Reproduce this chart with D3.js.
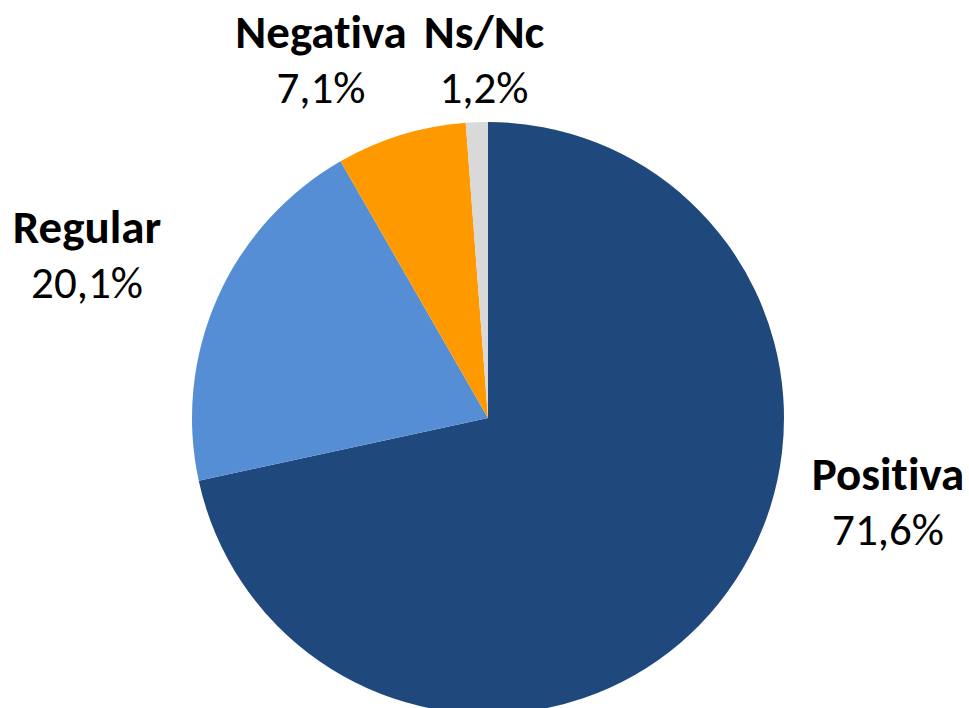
<!DOCTYPE html>
<html>
<head>
<meta charset="utf-8">
<title>Valoración</title>
<script src="https://d3js.org/d3.v7.min.js"></script>
<style>
  body { margin: 0; background: #fff; }
  svg text { font-family: Carlito, Lato, "Open Sans", sans-serif; fill: #000; font-variant-ligatures: none; font-feature-settings: "liga" 0; }
</style>
</head>
<body>
<svg id="chart" width="969" height="708"></svg>
<script>
// data
var categories = ["Positiva", "Regular", "Negativa", "Ns/Nc"];
var values = [71.6, 20.1, 7.1, 1.2];
var colors = ["#1F497D", "#558ED5", "#FF9900", "#D9D9D9"];
// label anchors (layout, text centre x / name baseline y)
var labelPos = [[888, 490], [87, 243], [321, 48], [484, 48]];

var svg = d3.select("#chart");
var cx = 488, cy = 418, radius = 296;

var pie = d3.pie().sort(null).value(function(d) { return d; });
var arc = d3.arc().innerRadius(0).outerRadius(radius);

var color = d3.scaleOrdinal().domain(categories).range(colors);

var g = svg.append("g").attr("transform", "translate(" + cx + "," + cy + ")");

g.selectAll("path")
  .data(pie(values))
  .enter()
  .append("path")
  .attr("d", arc)
  .attr("fill", function(d, i) { return color(categories[i]); });

var fmt = function(v) { return v.toFixed(1).replace(".", ",") + "%"; };

var labels = svg.append("g").selectAll("g")
  .data(categories)
  .enter()
  .append("g")
  .attr("transform", function(d, i) { return "translate(" + labelPos[i][0] + "," + labelPos[i][1] + ")"; });

labels.append("text")
  .attr("text-anchor", "middle")
  .style("font-size", "47px")
  .style("font-weight", "bold")
  .text(function(d) { return d; });

labels.append("text")
  .attr("text-anchor", "middle")
  .attr("y", 55)
  .style("font-size", "45px")
  .text(function(d, i) { return fmt(values[i]); });
</script>
</body>
</html>
